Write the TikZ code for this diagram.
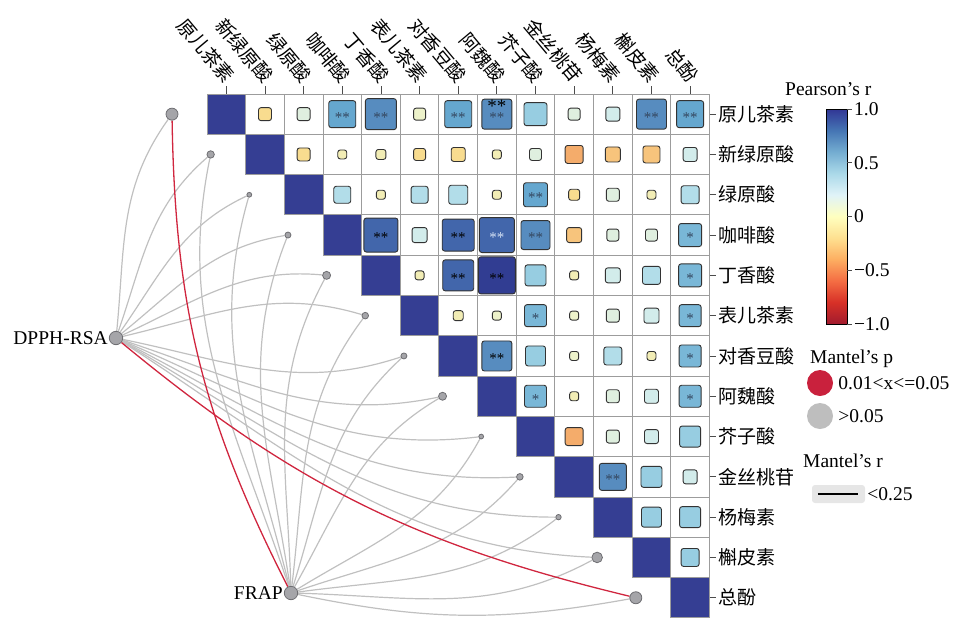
\documentclass[tikz,border=0pt]{standalone}
\usepackage{fontspec}
\setmainfont{Liberation Serif}
\newfontfamily\cjk{Noto Sans CJK SC}
\usepackage{xcolor}
\usepackage{tikz}
\usetikzlibrary{positioning,calc,backgrounds}

\definecolor{diagblue}{HTML}{353E93}
\definecolor{gridgray}{HTML}{9C9C9C}
\definecolor{dotgray}{HTML}{A5A5A9}
\definecolor{dotedge}{HTML}{6E6E72}
\definecolor{linkgray}{HTML}{C0C0C0}
\definecolor{linkred}{HTML}{D0263F}
\definecolor{keyred}{HTML}{C9213D}
\definecolor{keygray}{HTML}{BEBEBE}
\definecolor{keyback}{HTML}{E6E6E6}
% cell colours
\definecolor{cy0}{HTML}{F2EDB5}
\definecolor{cy1}{HTML}{F8DC8F}
\definecolor{co1}{HTML}{F7C47C}
\definecolor{co2}{HTML}{F4AC6B}
\definecolor{cg0}{HTML}{EDF2CA}
\definecolor{cg1}{HTML}{DFEFDF}
\definecolor{cc1}{HTML}{D2ECEB}
\definecolor{cb1}{HTML}{B2DDE9}
\definecolor{cb2}{HTML}{97CDE1}
\definecolor{cb3}{HTML}{79B7D7}
\definecolor{cb4}{HTML}{65A7CF}
\definecolor{cb5}{HTML}{578CBF}
\definecolor{cb6}{HTML}{4266AB}
\definecolor{cb7}{HTML}{313D92}
\definecolor{stardk}{HTML}{34465E}
\definecolor{starlt}{HTML}{D5E2F4}
% colour bar
\definecolor{rb0}{HTML}{A11B2E}
\definecolor{rb1}{HTML}{D73027}
\definecolor{rb2}{HTML}{F46D43}
\definecolor{rb3}{HTML}{FDAE61}
\definecolor{rb4}{HTML}{FEE090}
\definecolor{rb5}{HTML}{FFFFBF}
\definecolor{rb6}{HTML}{E0F3F8}
\definecolor{rb7}{HTML}{ABD9E9}
\definecolor{rb8}{HTML}{74ADD1}
\definecolor{rb9}{HTML}{4575B4}
\definecolor{rb10}{HTML}{313695}
\pgfdeclareverticalshading{rdylbu}{100bp}{color(0bp)=(rb0); color(25bp)=(rb0); color(30bp)=(rb1); color(35bp)=(rb2); color(40bp)=(rb3); color(45bp)=(rb4); color(50bp)=(rb5); color(55bp)=(rb6); color(60bp)=(rb7); color(65bp)=(rb8); color(70bp)=(rb9); color(75bp)=(rb10); color(100bp)=(rb10)}

\newcommand\cellw{38.65}
\newcommand\cellh{40.3}
\newcommand\txtfont{\fontsize{19.5}{22}\selectfont}
\newcommand\cjkfont{\cjk\fontsize{19}{22}\selectfont}

\begin{document}
\begin{tikzpicture}[
    x=1pt, y=-1pt,
    gridline/.style={draw=gridgray, line width=0.9pt},
    cellsq/.style={rectangle, draw=black!80, rounded corners=2.5pt, line width=0.9pt, inner sep=0pt, minimum size=#1},
    starlbl/.style={inner sep=0pt, font=\fontsize{15}{15}\selectfont, yshift=-3pt},
    linkdot/.style={circle, draw=dotedge, fill=dotgray, line width=0.8pt, inner sep=0pt, minimum size=#1},
    linkline/.style={draw=linkgray, line width=1.2pt},
    linkred/.style={draw=linkred, line width=1.3pt},
    bendl/.style={out=8, in=158, relative},
    bendr/.style={out=-8, in=-158, relative},
    rowlbl/.style={anchor=west, inner sep=0pt, font=\cjkfont},
    collbl/.style={anchor=east, rotate=-50, inner sep=0pt, font=\cjkfont},
    lbl/.style={inner sep=1pt, font=\txtfont},
    tickmark/.style={draw=black!70, line width=0.8pt}
]
    \useasboundingbox (0,0) rectangle (954,619);

    % matrix frame
    \foreach \i in {1,...,13}
        \fill[diagblue] ({207+(\i-1)*\cellw},{94+(\i-1)*\cellh}) rectangle ++(\cellw,\cellh);
    \foreach \i in {1,...,13}{
        \foreach \j in {\i,...,13}
            \draw[gridline] ({207+(\j-1)*\cellw},{94+(\i-1)*\cellh}) rectangle ++(\cellw,\cellh);
    }

    % labels and ticks
    \foreach \k/\t in {1/原儿茶素,2/新绿原酸,3/绿原酸,4/咖啡酸,5/丁香酸,6/表儿茶素,7/对香豆酸,8/阿魏酸,9/芥子酸,10/金丝桃苷,11/杨梅素,12/槲皮素,13/总酚}{
        \node[rowlbl] (r\k) at (718,{73.85+\k*\cellh}) {\t};
        \node[collbl] (t\k) at ({191.7+\k*\cellw},80) {\t};
        \draw[tickmark] ({187.675+\k*\cellw},86) -- ++(0,8);
        \draw[tickmark] (709.5,{73.85+\k*\cellh}) -- ++(6,0);
    }

    % correlation squares
    \foreach \i/\j/\s/\c in {
        1/2/13/cy1, 1/3/13/cg1, 1/4/27/cb4, 1/5/31/cb5, 1/6/12/cg0, 1/7/27/cb4, 1/8/30/cb5, 1/9/23/cb2, 1/10/12/cg1, 1/11/14/cc1, 1/12/30/cb5, 1/13/27/cb4,
        2/3/13/cy1, 2/4/9/cy0, 2/5/10/cy0, 2/6/12/cy1, 2/7/14/cy1, 2/8/9/cy0, 2/9/12/cg1, 2/10/18/co2, 2/11/15/co1, 2/12/17/co1, 2/13/14/cc1,
        3/4/17/cb1, 3/5/9/cy0, 3/6/17/cb1, 3/7/19/cb1, 3/8/9/cy0, 3/9/24/cb4, 3/10/11/cy1, 3/11/13/cg1, 3/12/9/cy0, 3/13/18/cb1,
        4/5/34/cb6, 4/6/15/cc1, 4/7/32/cb6, 4/8/35/cb6, 4/9/29/cb5, 4/10/15/co1, 4/11/12/cg1, 4/12/12/cg1, 4/13/23/cb3,
        5/6/9/cy0, 5/7/31/cb6, 5/8/37/cb7, 5/9/21/cb2, 5/10/9/cy0, 5/11/15/cc1, 5/12/18/cb1, 5/13/23/cb3,
        6/7/10/cy0, 6/8/9/cg0, 6/9/22/cb3, 6/10/9/cg0, 6/11/13/cg1, 6/12/15/cc1, 6/13/22/cb3,
        7/8/30/cb5, 7/9/20/cb2, 7/10/9/cg0, 7/11/18/cb1, 7/12/9/cy0, 7/13/22/cb3,
        8/9/22/cb3, 8/10/9/cy0, 8/11/13/cg1, 8/12/14/cc1, 8/13/22/cb3,
        9/10/18/co2, 9/11/13/cg1, 9/12/14/cc1, 9/13/21/cb2,
        10/11/27/cb5, 10/12/21/cb2, 10/13/14/cc1,
        11/12/20/cb2, 11/13/21/cb2,
        12/13/18/cb2}
        \node[cellsq=\s, fill=\c] (c\i-\j) at ({187.675+\j*\cellw},{73.85+\i*\cellh}) {};

    % significance marks
    \foreach \i/\j/\t/\c in {
        1/4/**/stardk, 1/5/**/stardk, 1/7/**/stardk, 1/8/**/stardk, 1/12/**/stardk, 1/13/**/stardk,
        3/9/**/stardk, 4/5/**/black, 4/7/**/black, 4/8/**/starlt, 4/9/**/stardk, 4/13/*/stardk,
        5/7/**/black, 5/8/**/black, 5/13/*/stardk, 6/9/*/stardk, 6/13/*/stardk,
        7/8/**/black, 7/13/*/stardk, 8/9/*/stardk, 8/13/*/stardk, 10/11/**/stardk}
        \node[starlbl, text=\c] (s\i-\j) at ({187.675+\j*\cellw},{73.85+\i*\cellh}) {\t};
    \node[starlbl, font=\fontsize{19}{19}\selectfont] (s1-8b) at ({187.675+8*\cellw},103) {**};

    % mantel nodes
    \node[linkdot=13.4] (dpph) at (116,338) {};
    \node[lbl, left=0pt of dpph] (dpphlbl) {DPPH-RSA};
    \node[linkdot=13.4] (frap) at (291,593) {};
    \node[lbl, left=0pt of frap] (fraplbl) {FRAP};
    \foreach \k/\d in {1/12,2/7.4,3/4.8,4/6,5/8,6/6.6,7/6,8/8,9/4.8,10/6.6,11/5.4,12/10.6,13/12}
        \node[linkdot=\d] (d\k) at ({172+(\k-1)*\cellw},{73.85+\k*\cellh}) {};

    \begin{scope}[on background layer]
        \foreach \k in {1,...,6}
            \draw[linkline] (dpph) to[bendl] (d\k);
        \foreach \k in {7,...,12}
            \draw[linkline] (dpph) to[bendr] (d\k);
        \foreach \k in {2,...,8}
            \draw[linkline] (frap) to[bendl] (d\k);
        \foreach \k in {9,...,12}
            \draw[linkline] (frap) to[bendr] (d\k);
        \draw[linkline] (frap) to[bend right=11] (d13);
        \draw[linkred] (frap) to[bend left=13] (d1);
        \draw[linkred] (dpph) to[bend right=13] (d13);
    \end{scope}

    % legend
    \node[lbl, anchor=base west, inner sep=0pt] (prlbl) at (785,95) {Pearson’s r};
    \shade[shading=rdylbu, draw=black, line width=0.9pt] (826,109) rectangle (847,324);
    \foreach \v/\t/\n in {1/1.0/1, 0.5/0.5/2, 0/0/3, -0.5/−0.5/4, -1/−1.0/5}{
        \draw[tickmark] (847,{216.5-107.5*\v}) -- ++(5,0);
        \node[lbl, anchor=west, inner sep=0pt] (cbt\n) at (854,{216.5-107.5*\v}) {\t};
    }
    \node[lbl, anchor=base west, inner sep=0pt] (mplbl) at (810,363) {Mantel’s p};
    \node[circle, fill=keyred, minimum size=26, inner sep=0pt] (pkeya) at (820,383) {};
    \node[lbl, inner sep=0pt, right=5pt of pkeya] (pkeyalbl) {0.01<x<=0.05};
    \node[circle, fill=keygray, minimum size=26, inner sep=0pt] (pkeyb) at (820,416) {};
    \node[lbl, inner sep=0pt, right=5pt of pkeyb] (pkeyblbl) {>0.05};
    \node[lbl, anchor=base west, inner sep=0pt] (mrlbl) at (803,467) {Mantel’s r};
    \node[fill=keyback, rounded corners=3pt, minimum width=53, minimum height=18, inner sep=0pt] (rkey) at (838.5,494) {};
    \draw[line width=1.5pt] ([xshift=6pt]rkey.west) -- ([xshift=-7pt]rkey.east);
    \node[lbl, inner sep=0pt, right=2pt of rkey] (rkeylbl) {<0.25};
\end{tikzpicture}
\end{document}
